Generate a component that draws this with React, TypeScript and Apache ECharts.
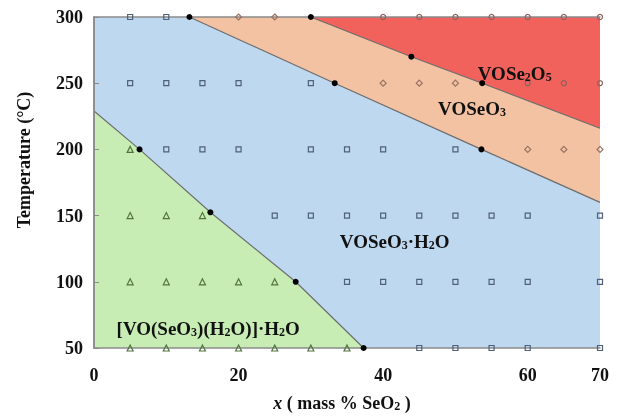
import React, { useEffect, useRef } from "react";
import * as echarts from "echarts";

// Phase boundaries (x = mass % SeO2, y = temperature °C)
const boundaryGreenBlue: number[][] = [[0, 229], [6.3, 200], [16.1, 152.5], [27.9, 100], [37.3, 50]];
const boundaryBluePeach: number[][] = [[13.2, 300], [33.3, 250], [53.6, 200], [70, 160]];
const boundaryPeachRed: number[][] = [[30, 300], [43.9, 270], [53.7, 250], [70, 216]];

// Experimental points
const squares: number[][] = [
  [5, 300], [10, 300],
  [5, 250], [10, 250], [15, 250], [20, 250], [30, 250],
  [10, 200], [15, 200], [20, 200], [30, 200], [35, 200], [40, 200], [50, 200],
  [25, 150], [30, 150], [35, 150], [40, 150], [45, 150], [50, 150], [55, 150], [60, 150], [70, 150],
  [35, 100], [40, 100], [45, 100], [50, 100], [55, 100], [60, 100], [70, 100],
  [45, 50], [50, 50], [55, 50], [60, 50], [70, 50],
];
const triangles: number[][] = [
  [5, 200],
  [5, 150], [10, 150], [15, 150],
  [5, 100], [10, 100], [15, 100], [20, 100], [25, 100],
  [5, 50], [10, 50], [15, 50], [20, 50], [25, 50], [30, 50], [35, 50],
];
const diamonds: number[][] = [
  [20, 300], [25, 300],
  [40, 250], [45, 250], [50, 250],
  [60, 200], [65, 200], [70, 200],
];
const circles: number[][] = [
  [40, 300], [45, 300], [50, 300], [55, 300], [60, 300], [65, 300], [70, 300],
  [60, 250], [65, 250], [70, 250],
];
const blackDots: number[][] = [
  [6.3, 200], [16.1, 152.5], [27.9, 100], [37.3, 50],
  [13.2, 300], [33.3, 250], [53.6, 200],
  [30, 300], [43.9, 270], [53.7, 250],
];

// Region labels
const regionLabels: { value: number[]; text: string }[] = [
  { value: [58.2, 258.5], text: "{m|VOSe}{s|2}{m|O}{s|5}" },
  { value: [52.3, 232], text: "{m|VOSeO}{s|3}" },
  { value: [41.6, 131.5], text: "{m|VOSeO}{s|3}{m|·H}{s|2}{m|O}" },
  { value: [15.8, 66], text: "{m|[VO(SeO}{s|3}{m|)(H}{s|2}{m|O)]·H}{s|2}{m|O}" },
];

const xLabelValues = [0, 20, 40, 60, 70];
const yTitle = "Temperature (°C)";

const SERIF = "'Liberation Serif', 'Times New Roman', serif";
const AXIS_COLOR = "#8a8a8a";
const LINE_COLOR = "#6e6e6e";
const TEXT = "#111111";

export default function App() {
  const ref = useRef<HTMLDivElement>(null);

  useEffect(() => {
    if (!ref.current) return;
    const chart = echarts.init(ref.current, undefined, { renderer: "svg" });

    const hollow = (name: string, data: number[][], symbol: string, size: number, color: string) => ({
      name,
      type: "scatter",
      data,
      symbol,
      symbolSize: size,
      z: 6,
      itemStyle: { color: "rgba(0,0,0,0)", borderColor: color, borderWidth: 1.2, opacity: 1 },
    });

    const rich = {
      m: { fontFamily: SERIF, fontWeight: "bold", fontSize: 19, color: TEXT, lineHeight: 22, verticalAlign: "bottom", textBorderWidth: 0 },
      s: { fontFamily: SERIF, fontWeight: "bold", fontSize: 12, color: TEXT, lineHeight: 8, verticalAlign: "bottom", textBorderWidth: 0 },
    };

    const option: any = {
      animation: false,
      grid: {
        left: 94,
        right: 17,
        top: 17,
        bottom: 68,
        show: true,
        backgroundColor: "#bed8f0",
        borderWidth: 0,
        outerBoundsMode: "none",
        containLabel: false,
      },
      graphic: [
        {
          type: "text",
          x: 24,
          y: 160,
          rotation: Math.PI / 2,
          style: {
            text: yTitle,
            fontFamily: SERIF,
            fontWeight: "bold",
            fontSize: 18,
            fill: TEXT,
            align: "center",
            verticalAlign: "middle",
          },
        },
      ],
      xAxis: [
        {
          type: "value",
          min: 0,
          max: 70,
          interval: 10,
          position: "bottom",
          z: 4,
          axisLine: { show: true, lineStyle: { color: AXIS_COLOR, width: 1.5 } },
          axisTick: { show: false },
          splitLine: { show: false },
          axisLabel: {
            margin: 18,
            fontFamily: SERIF,
            fontWeight: "bold",
            fontSize: 18,
            color: TEXT,
            formatter: (v: number) => (xLabelValues.includes(v) ? String(v) : ""),
          },
          name: "{i|x}{m| ( mass % SeO}{s|2}{m| )}",
          nameLocation: "middle",
          nameGap: 44,
          nameTextStyle: {
            fontFamily: SERIF,
            fontWeight: "bold",
            fontSize: 18,
            color: TEXT,
            padding: [0, 10, 0, 0],
            rich: {
              i: { fontFamily: SERIF, fontWeight: "bold", fontStyle: "italic", fontSize: 18, color: TEXT, lineHeight: 20, verticalAlign: "bottom" },
              m: { fontFamily: SERIF, fontWeight: "bold", fontSize: 18, color: TEXT, lineHeight: 20, verticalAlign: "bottom" },
              s: { fontFamily: SERIF, fontWeight: "bold", fontSize: 12, color: TEXT, lineHeight: 6, verticalAlign: "bottom" },
            },
          },
        },
        {
          type: "value",
          min: 0,
          max: 70,
          position: "top",
          z: 4,
          axisLine: { show: true, lineStyle: { color: AXIS_COLOR, width: 1.5 } },
          axisTick: { show: false },
          axisLabel: { show: false },
          splitLine: { show: false },
        },
      ],
      yAxis: [
        {
          type: "value",
          min: 50,
          max: 300,
          interval: 50,
          position: "left",
          z: 4,
          axisLine: { show: true, lineStyle: { color: AXIS_COLOR, width: 1.5 } },
          axisTick: { show: true, inside: true, length: 5, lineStyle: { color: AXIS_COLOR } },
          splitLine: { show: false },
          axisLabel: {
            margin: 11,
            fontFamily: SERIF,
            fontWeight: "bold",
            fontSize: 18,
            color: TEXT,
          },
        },
        {
          type: "value",
          min: 50,
          max: 300,
          interval: 50,
          position: "right",
          z: 4,
          axisLine: { show: true, lineStyle: { color: AXIS_COLOR, width: 1.5 } },
          axisTick: { show: false },
          axisLabel: { show: false },
          splitLine: { show: false },
        },
      ],
      series: [
        {
          name: "VOSeO3",
          type: "line",
          data: boundaryBluePeach,
          symbol: "none",
          z: 2,
          lineStyle: { color: LINE_COLOR, width: 1.2 },
          areaStyle: { color: "#f2c2a2", opacity: 1, origin: "end" },
        },
        {
          name: "VOSe2O5",
          type: "line",
          data: boundaryPeachRed,
          symbol: "none",
          z: 3,
          lineStyle: { color: LINE_COLOR, width: 1.2 },
          areaStyle: { color: "#f0625b", opacity: 1, origin: "end" },
        },
        {
          name: "[VO(SeO3)(H2O)]·H2O",
          type: "line",
          data: boundaryGreenBlue,
          symbol: "none",
          z: 3,
          lineStyle: { color: LINE_COLOR, width: 1.2 },
          areaStyle: { color: "#c8edb4", opacity: 1, origin: "start" },
        },
        hollow("squares", squares, "rect", 5, "#4f6078"),
        hollow("triangles", triangles, "triangle", 6, "#52733f"),
        hollow("diamonds", diamonds, "diamond", 6, "#987262"),
        hollow("circles", circles, "circle", 5, "#8c625e"),
        {
          name: "boundary points",
          type: "scatter",
          data: blackDots,
          symbol: "circle",
          symbolSize: 6,
          z: 7,
          itemStyle: { color: "#000", opacity: 1 },
        },
        {
          name: "labels",
          type: "scatter",
          symbolSize: 0,
          z: 8,
          itemStyle: { color: TEXT, opacity: 1 },
          data: regionLabels.map((r) => ({ value: r.value, text: r.text })),
          label: {
            show: true,
            position: "inside",
            color: TEXT,
            opacity: 1,
            textBorderWidth: 0,
            textBorderColor: "transparent",
            formatter: (p: any) => p.data.text,
            rich,
          },
          silent: true,
        },
      ],
    };

    chart.setOption(option);
    return () => chart.dispose();
  }, []);

  return <div ref={ref} style={{ position: "fixed", left: 0, top: 0, width: 617, height: 416 }} />;
}
